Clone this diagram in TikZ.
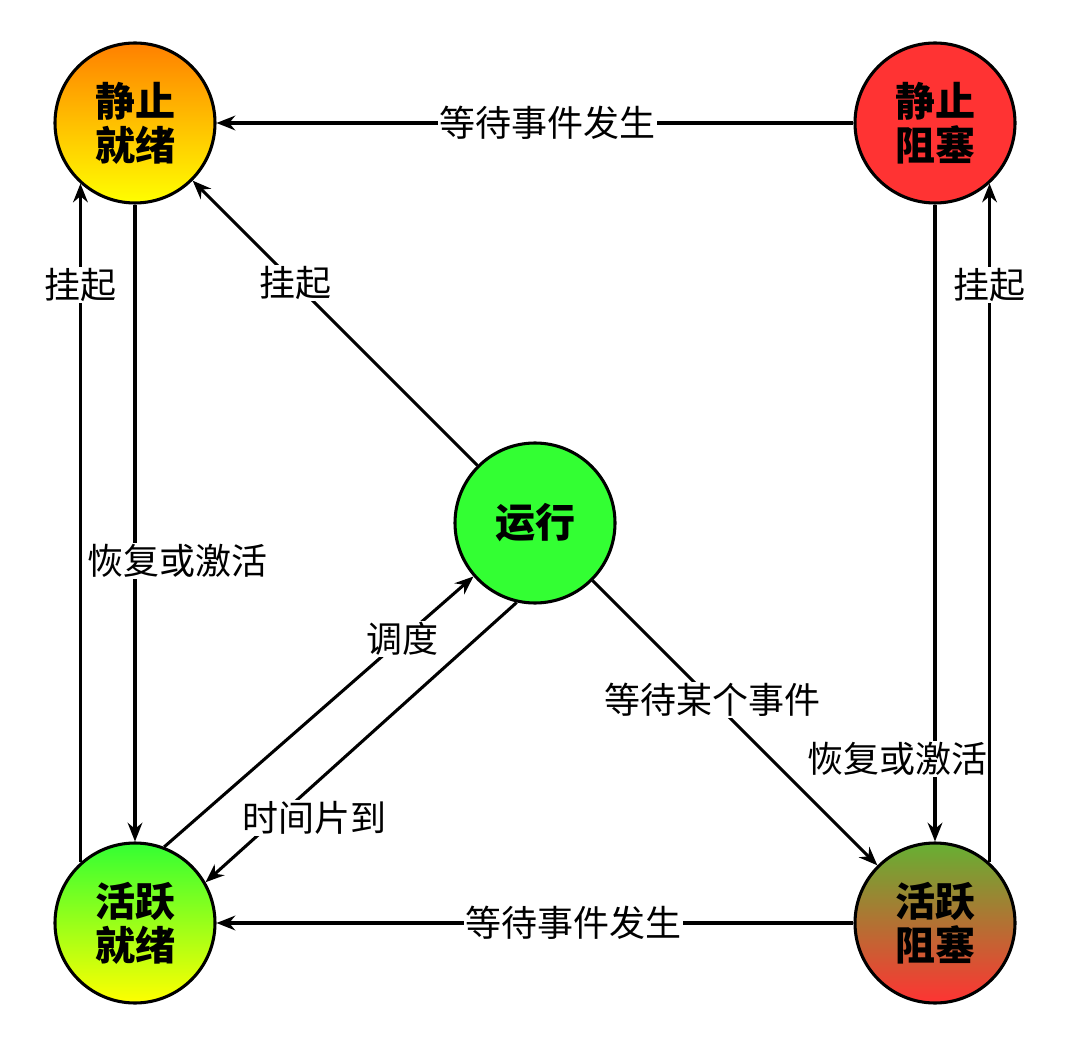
\documentclass[tikz,border=0pt]{standalone}
\usepackage{fontspec}
\setmainfont{Noto Sans CJK SC}
\usetikzlibrary{arrows.meta}
\definecolor{gr}{HTML}{33FF33}
\definecolor{rd}{HTML}{FF3333}
\definecolor{yl}{HTML}{FFFF00}
\definecolor{og}{HTML}{FF8000}
\definecolor{dg}{HTML}{66B033}
\begin{document}
\begin{tikzpicture}[x=0.75pt,y=-0.75pt,
  st/.style={circle,draw=black,line width=2.3pt,minimum size=120pt,inner sep=0pt,align=center,font=\fontsize{30}{33}\selectfont\bfseries},
  ed/.style={line width=2.3pt,-{Stealth[length=14pt,width=11pt]}},
  lb/.style={fill=white,inner sep=1pt,font=\fontsize{27}{30}\selectfont}]
\useasboundingbox (0,0) rectangle (1074,1044);
\node[st,top color=og,bottom color=yl] (sj) at (135,123) {静止\\就绪};
\node[st,fill=rd] (sb) at (935,123) {静止\\阻塞};
\node[st,fill=gr] (run) at (535,523) {运行};
\node[st,top color=gr,bottom color=yl] (aj) at (135,923) {活跃\\就绪};
\node[st,top color=dg,bottom color=rd] (ab) at (935,923) {活跃\\阻塞};
\draw[ed] (sb) -- node[lb,pos=0.48]{等待事件发生} (sj);
\draw[ed] (ab) -- node[lb,pos=0.44]{等待事件发生} (aj);
\draw[ed] (sj) -- node[lb,pos=0.56,xshift=32pt]{恢复或激活} (aj);
\draw[ed] (aj.132) -- node[lb,pos=0.85]{挂起} (sj.228);
\draw[ed] (sb) -- node[lb,pos=0.87,xshift=-28pt]{恢复或激活} (ab);
\draw[ed] (ab.48) -- node[lb,pos=0.85]{挂起} (sb.-48);
\draw[ed] (run) -- node[lb,pos=0.64]{挂起} (sj);
\draw[ed] (aj.69) -- node[lb,pos=0.77]{调度} (run.221);
\draw[ed] (run.257) -- node[lb,pos=0.77,xshift=28pt]{时间片到} (aj.30);
\draw[ed] (run) -- node[lb,pos=0.42]{等待某个事件} (ab);
\end{tikzpicture}
\end{document}
